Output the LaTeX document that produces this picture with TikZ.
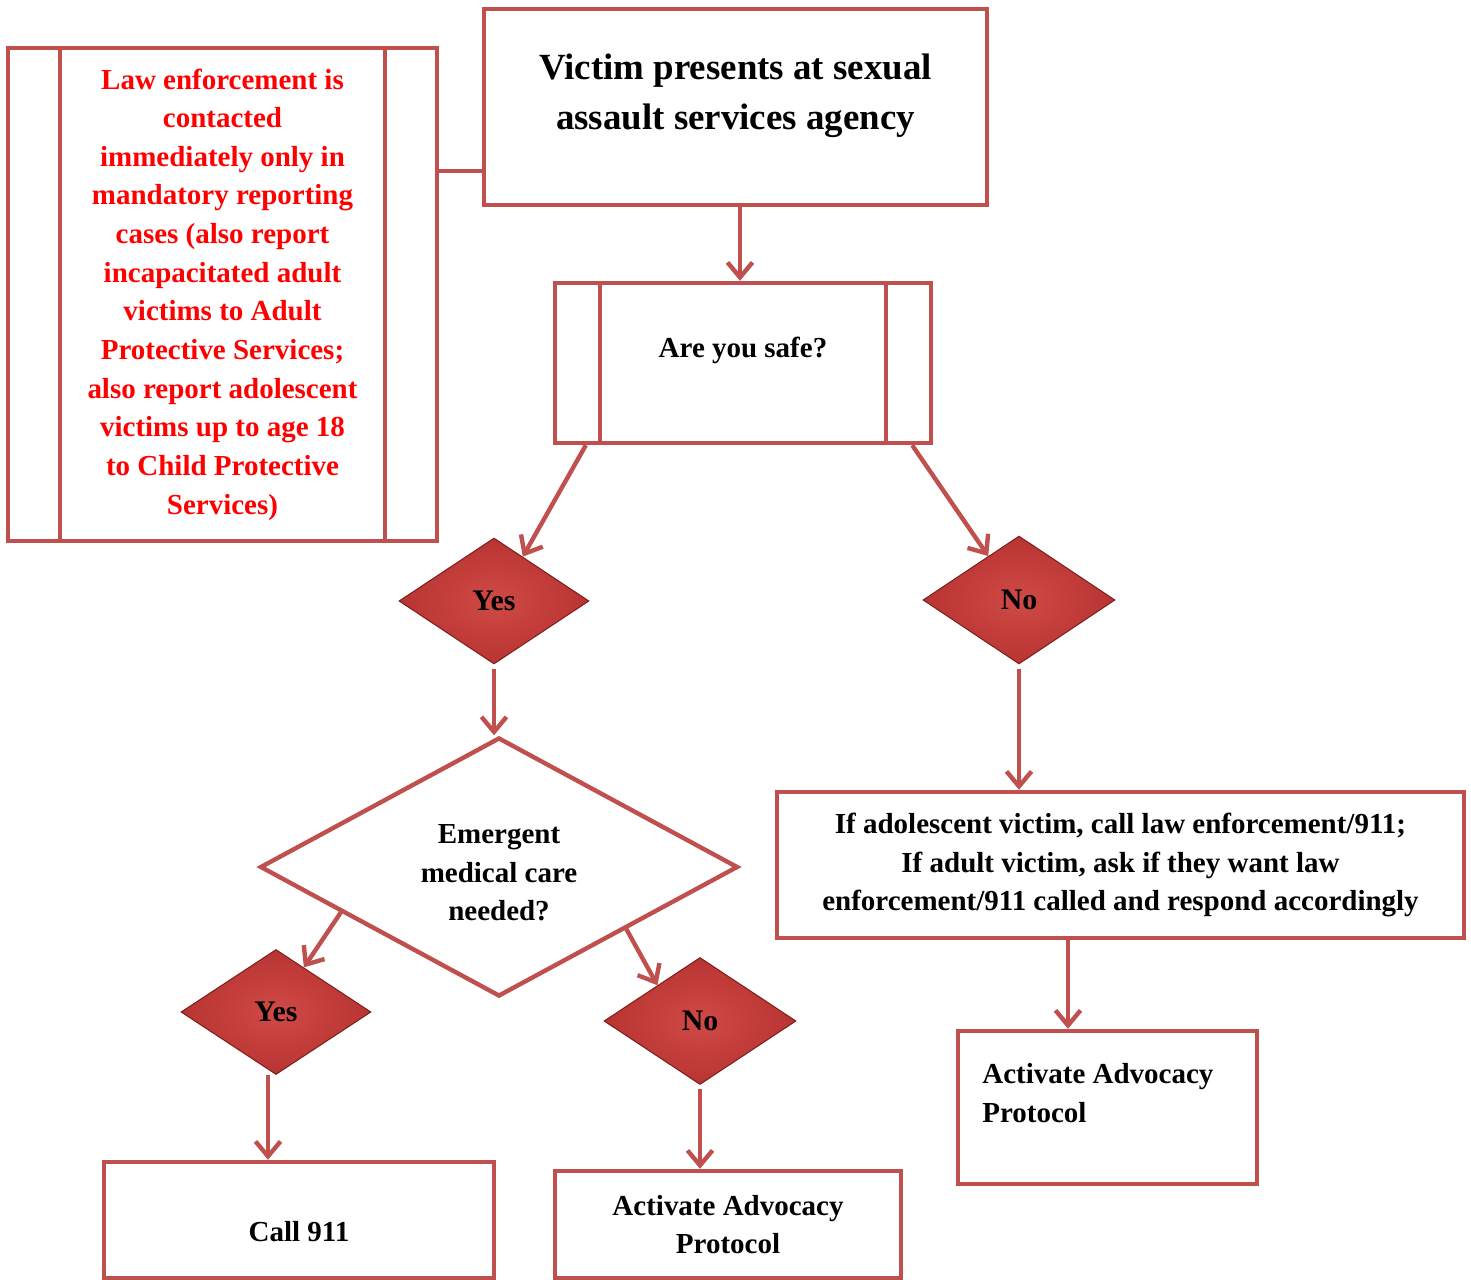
\documentclass[tikz,border=0pt]{standalone}
\usepackage{fontspec}
\setmainfont{Liberation Serif}
\usepackage{tikz}
\usetikzlibrary{arrows.meta,shapes.geometric,positioning}
\definecolor{boxred}{RGB}{192,80,77}
\definecolor{lawred}{RGB}{255,0,0}
\definecolor{gemlight}{RGB}{208,74,70}
\definecolor{gemdark}{RGB}{184,52,50}
\definecolor{gemedge}{RGB}{128,32,30}
\tikzstyle{stepbox} = [rectangle, draw=boxred, line width=2.5pt, fill=white, inner sep=0pt, align=center, font=\fontsize{16.5}{22}\selectfont\bfseries]
\tikzstyle{question} = [diamond, draw=boxred, line width=2.5pt, fill=white, inner sep=0pt]
\tikzstyle{answer} = [diamond, draw=gemedge, line width=0.6pt, inner color=gemlight, outer color=gemdark, inner sep=0pt, font=\fontsize{17}{22}\selectfont\bfseries]
\tikzstyle{boxtext} = [align=center, inner sep=0pt, font=\fontsize{16.5}{22}\selectfont\bfseries]
\tikzstyle{arrow} = [line width=2.5pt, draw=boxred, -{Straight Barb[length=0.3cm, width=0.5cm]}]
\tikzstyle{link} = [line width=2.5pt, draw=boxred]
\begin{document}
\begin{tikzpicture}[x=0.02cm, y=-0.02cm]
\useasboundingbox (0,0) rectangle (1471,1280);

% Reporting note on the left
\node[stepbox, text=lawred, minimum width=8.58cm, minimum height=9.86cm] (law) at (222.5,294.5) {Law enforcement is\\contacted\\immediately only in\\mandatory reporting\\cases (also report\\incapacitated adult\\victims to Adult\\Protective Services;\\also report adolescent\\victims up to age 18\\to Child Protective\\Services)};
\draw[link] ([xshift=1.08cm]law.north west) -- ([xshift=1.08cm]law.south west);
\draw[link] ([xshift=-1.08cm]law.north east) -- ([xshift=-1.08cm]law.south east);

% Start
\node[stepbox, minimum width=10.06cm, minimum height=3.92cm] (title) at (735.5,107) {};
\node[boxtext, font=\fontsize{21}{28.5}\selectfont\bfseries] (titletext) at (735.5,96) {Victim presents at sexual\\assault services agency};
\draw[link] ([yshift=-2.5cm]law.north east) -- ([yshift=-2.5cm]law.north east -| title.west);

% First question
\node[stepbox, minimum width=7.52cm, minimum height=3.2cm] (safe) at (743,363) {};
\draw[link] ([xshift=0.94cm]safe.north west) -- ([xshift=0.94cm]safe.south west);
\draw[link] ([xshift=-0.94cm]safe.north east) -- ([xshift=-0.94cm]safe.south east);
\node[boxtext] (safetext) at (743,350) {Are you safe?};

% Answers
\node[answer, minimum width=3.8cm, minimum height=2.52cm] (yes1) at (494,601) {Yes};
\node[answer, minimum width=3.84cm, minimum height=2.56cm] (no1) at (1019,600) {No};

% Safe branch
\node[question, minimum width=9.56cm, minimum height=5.18cm] (emerg) at (499,867) {};
\node[boxtext] (emergtext) at (499,873) {Emergent\\medical care\\needed?};
\node[answer, minimum width=3.8cm, minimum height=2.5cm] (yes2) at (276,1012) {Yes};
\node[answer, minimum width=3.84cm, minimum height=2.54cm] (no2) at (700,1021) {No};
\node[stepbox, minimum width=7.8cm, minimum height=2.32cm] (call) at (299,1220) {};
\node[boxtext] (calltext) at (299,1232) {Call 911};
\node[stepbox, minimum width=6.92cm, minimum height=2.14cm] (act1) at (728,1224.5) {Activate Advocacy\\Protocol};

% Unsafe branch
\node[stepbox, minimum width=13.74cm, minimum height=2.92cm] (ifbox) at (1120.5,865) {If adolescent victim, call law enforcement/911;\\If adult victim, ask if they want law\\enforcement/911 called and respond accordingly};
\node[stepbox, minimum width=5.98cm, minimum height=3.06cm] (act2) at (1107.5,1107.5) {};
\node[boxtext, align=left, anchor=north west] (act2text) at (982,1063) {Activate Advocacy\\Protocol};

% Arrows
\draw[arrow] ([xshift=0.09cm]title.south) -- ([xshift=0.09cm]title.south |- safe.north);
\draw[arrow] ([xshift=0.66cm]safe.south west) -- (yes1.57);
\draw[arrow] ([xshift=-0.42cm]safe.south east) -- (no1.125);
\draw[arrow] ([yshift=-0.08cm]yes1.south) -- (yes1.south |- emerg.north);
\draw[arrow] (emerg.196) -- (yes2.58);
\draw[arrow] (emerg.-26) -- (no2.140);
\draw[arrow] ([xshift=-0.16cm]yes2.south) -- ([xshift=-0.16cm]yes2.south |- call.north);
\draw[arrow] ([yshift=-0.08cm]no2.south) -- (no2.south |- act1.north);
\draw[arrow] ([yshift=-0.08cm]no1.south) -- (no1.south |- ifbox.north);
\draw[arrow] ([xshift=-0.79cm]act2.north |- ifbox.south) -- ([xshift=-0.79cm]act2.north);
\end{tikzpicture}
\end{document}
